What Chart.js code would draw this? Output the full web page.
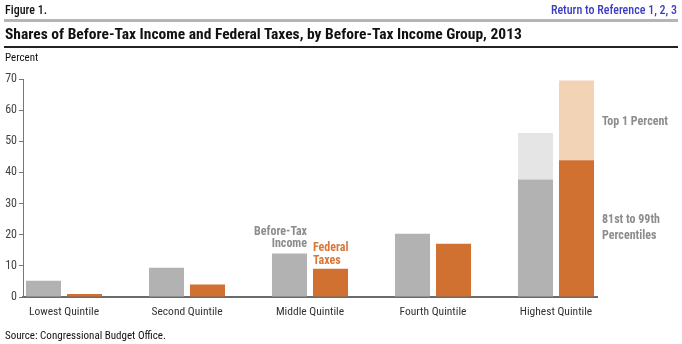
<!DOCTYPE html>
<html>
<head>
<meta charset="utf-8">
<script src="https://cdn.jsdelivr.net/npm/chart.js@4/dist/chart.umd.min.js"></script>
<style>
  html, body { margin: 0; padding: 0; background: #fff; }
  body { width: 682px; height: 344px; position: relative; overflow: hidden;
         font-family: "Liberation Sans Narrow", "Roboto Condensed", Roboto, "Liberation Sans", Arial, sans-serif; color: #111; }
  #wrap { position: absolute; left: 0; top: 0; width: 682px; height: 344px; }
  .t { position: absolute; white-space: nowrap; }
  #fig { left: 5px; top: 3px; font-size: 12px; font-weight: 500; }
  #ret { right: 5px; top: 3px; font-size: 12px; color: #3b3bc4; font-weight: 500; }
  #rule1 { position: absolute; left: 4px; width: 674px; top: 19px; height: 3px; background: #b5b5b5; }
  #title { left: 5px; top: 25px; font-size: 15.5px; font-weight: bold; }
  #rule2 { position: absolute; left: 4px; width: 674px; top: 46px; height: 2px; background: #222; }
  #unit { left: 5px; top: 51px; font-size: 11px; }
  #src { left: 5px; top: 329px; font-size: 11px; }
</style>
</head>
<body>
<div id="wrap"><canvas id="c" width="682" height="344"></canvas></div>
<div class="t" id="fig">Figure 1.</div>
<div class="t" id="ret">Return to Reference 1, 2, 3</div>
<div id="rule1"></div>
<div class="t" id="title">Shares of Before-Tax Income and Federal Taxes, by Before-Tax Income Group, 2013</div>
<div id="rule2"></div>
<div class="t" id="unit">Percent</div>
<div class="t" id="src">Source: Congressional Budget Office.</div>
<script>
// Income groups
const categories = ['Lowest Quintile', 'Second Quintile', 'Middle Quintile', 'Fourth Quintile', 'Highest Quintile'];
// Shares of before-tax income (percent); the highest quintile is split into 81st-99th and top 1 percent
const incomeBase = [5.2, 9.4, 14.0, 20.3, 37.7];
const incomeTop1 = [null, null, null, null, 15.0];
// Shares of federal taxes (percent)
const taxesBase = [1.0, 4.0, 9.1, 17.1, 43.9];
const taxesTop1 = [null, null, null, null, 25.6];
// Y-axis tick values
const yTicks = [0, 10, 20, 30, 40, 50, 60, 70];

const FONT = '"Liberation Sans Narrow", "Roboto Condensed", Roboto, "Liberation Sans", Arial, sans-serif';
const GRAY = '#b2b2b2', GRAY_LT = '#e5e5e5', ORANGE = '#d07031', ORANGE_LT = '#f3d3b5';

const pts = arr => arr.map((v, i) => ({ x: i, y: v }));

// Text labels attached to the bars of the middle and highest groups
const notes = {
  id: 'notes',
  afterDatasetsDraw(chart) {
    const ctx = chart.ctx;
    const y = chart.scales.y;
    const mInc = chart.getDatasetMeta(0).data[2];
    const mTax = chart.getDatasetMeta(2).data[2];
    const hTax = chart.getDatasetMeta(2).data[4];
    ctx.save();
    ctx.font = 'bold 12px ' + FONT;
    ctx.textBaseline = 'alphabetic';
    // Before-Tax Income
    ctx.fillStyle = '#8c8c8c';
    ctx.textAlign = 'right';
    const incRight = mInc.x + mInc.width / 2;
    ctx.fillText('Before-Tax', incRight, mInc.y - 18);
    ctx.fillText('Income', incRight, mInc.y - 6);
    // Federal Taxes
    ctx.fillStyle = '#d9773a';
    ctx.textAlign = 'left';
    const taxLeft = mTax.x - mTax.width / 2;
    ctx.fillText('Federal', taxLeft, mTax.y - 18);
    ctx.fillText('Taxes', taxLeft, mTax.y - 5);
    // Highest quintile segments
    ctx.fillStyle = '#8c8c8c';
    const rx = hTax.x + hTax.width / 2 + 8;
    ctx.textBaseline = 'middle';
    const topMid = (y.getPixelForValue(taxesBase[4] + taxesTop1[4]) + y.getPixelForValue(taxesBase[4])) / 2;
    ctx.fillText('Top 1 Percent', rx, topMid + 2);
    const baseMid = (y.getPixelForValue(taxesBase[4]) + y.getPixelForValue(0)) / 2;
    ctx.fillText('81st to 99th', rx, baseMid - 9);
    ctx.fillText('Percentiles', rx, baseMid + 7);
    ctx.restore();
  }
};

new Chart(document.getElementById('c'), {
  type: 'bar',
  data: {
    datasets: [
      { label: 'Before-Tax Income', data: pts(incomeBase), stack: 'income', backgroundColor: GRAY },
      { label: 'Before-Tax Income, Top 1 Percent', data: pts(incomeTop1), stack: 'income', backgroundColor: GRAY_LT },
      { label: 'Federal Taxes', data: pts(taxesBase), stack: 'taxes', backgroundColor: ORANGE },
      { label: 'Federal Taxes, Top 1 Percent', data: pts(taxesTop1), stack: 'taxes', backgroundColor: ORANGE_LT }
    ]
  },
  options: {
    responsive: false,
    animation: false,
    devicePixelRatio: 1,
    categoryPercentage: 0.667,
    barPercentage: 0.854,
    layout: { padding: { left: 0, right: 85, top: 79, bottom: 0 } },
    plugins: { legend: { display: false }, tooltip: { enabled: false } },
    scales: {
      x: {
        type: 'linear',
        offset: false,
        stacked: true,
        min: -1 / 3,
        max: 4 + 1 / 3,
        afterBuildTicks: s => { s.ticks = categories.map((_, i) => ({ value: i })); },
        afterFit: s => { s.height = 47; },
        grid: { display: false },
        border: { display: true, color: '#6b6b6b', width: 2 },
        ticks: {
          padding: 0,
          color: '#333',
          font: { family: FONT, size: 11.5 },
          autoSkip: false,
          maxRotation: 0,
          callback: v => categories[v]
        }
      },
      y: {
        stacked: true,
        min: 0,
        max: 70,
        afterBuildTicks: s => { s.ticks = yTicks.map(v => ({ value: v })); },
        afterFit: s => { s.width = 23; },
        grid: { drawOnChartArea: false, drawTicks: true, tickLength: 4, color: '#777' },
        border: { display: true, color: '#777', width: 1 },
        ticks: { padding: 2, color: '#444', font: { family: FONT, size: 12 } }
      }
    }
  },
  plugins: [notes]
});
</script>
</body>
</html>
